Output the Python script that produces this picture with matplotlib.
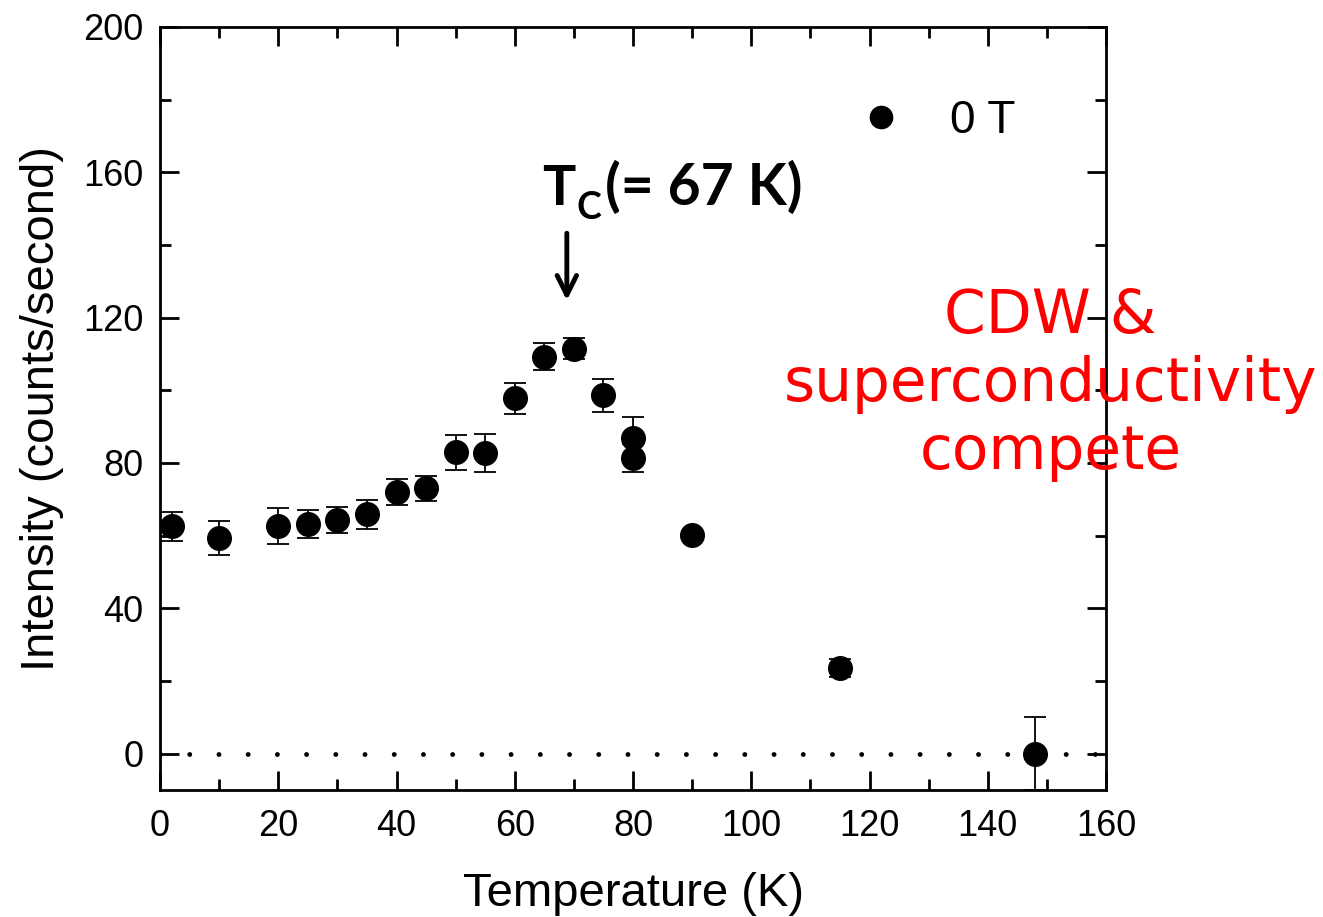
import matplotlib.pyplot as plt
import numpy as np
from matplotlib.ticker import MultipleLocator
from matplotlib.lines import Line2D

# data
temp = [2, 10, 20, 25, 30, 35, 40, 45, 50, 55, 60, 65, 70, 75, 80, 80, 90, 115, 148]
intensity = [62.6, 59.3, 62.6, 63.2, 64.3, 65.9, 72.0, 73.0, 83.0, 82.7,
             97.8, 109.3, 111.5, 98.6, 86.8, 81.3, 60.2, 23.6, 0.0]
err = [4.0, 4.6, 5.0, 3.8, 3.6, 4.0, 3.6, 3.5, 4.8, 5.2,
       4.2, 3.6, 2.8, 4.6, 5.8, 3.8, 1.0, 2.5, 10.0]

plt.rcParams['font.family'] = ['Liberation Sans', 'DejaVu Sans']

fig = plt.figure(figsize=(13.23, 9.17), dpi=100)
ax = fig.add_axes([0.121, 0.1385, 0.715, 0.8321])

ax.axhline(0, color='black', lw=3.5, linestyle=(0, (0.01, 6.0)),
           dash_capstyle='round', zorder=1)

ax.errorbar(temp, intensity, yerr=err, fmt='o', color='black', ms=17,
            ecolor='black', elinewidth=1.3, capsize=8, capthick=1.3,
            zorder=3)

ax.set_xlim(0, 160)
ax.set_ylim(-10, 200)
ax.xaxis.set_major_locator(MultipleLocator(20))
ax.xaxis.set_minor_locator(MultipleLocator(10))
ax.yaxis.set_major_locator(MultipleLocator(40))
ax.yaxis.set_minor_locator(MultipleLocator(20))
ax.tick_params(which='both', direction='in', top=True, right=True,
               width=2, labelsize=26)
ax.tick_params(axis='x', pad=14)
ax.tick_params(axis='y', pad=12)
ax.tick_params(which='major', length=14)
ax.tick_params(which='minor', length=8)
for s in ax.spines.values():
    s.set_linewidth(2)

ax.set_xlabel('Temperature (K)', fontsize=34, labelpad=20)
ax.set_ylabel('Intensity (counts/second)', fontsize=34, labelpad=14)

handle = Line2D([], [], ls='none', marker='o', color='black', ms=16)
ax.legend([handle], ['0 T'], loc='upper right', bbox_to_anchor=(0.948, 0.96),
          frameon=False, fontsize=33, handletextpad=1.0, handlelength=1.0)

# Tc annotation
ax.annotate('', xy=(68.8, 124), xytext=(68.8, 144),
            arrowprops=dict(arrowstyle='->', lw=3.5, color='black',
                            mutation_scale=35))
ax.text(64.6, 151, 'T', fontsize=40, fontweight='bold', family='Lato',
        ha='left', va='baseline')
ax.text(70.5, 147.2, 'C', fontsize=27, fontweight='bold', family='Lato',
        ha='left', va='baseline')
ax.text(75.2, 151, '(= 67 K)', fontsize=41, fontweight='bold', family='Lato',
        ha='left', va='baseline')

fig.text(0.794, 0.581, 'CDW &\nsuperconductivity\ncompete', color='red',
         fontsize=43, ha='center', va='center', linespacing=1.2,
         family='DejaVu Sans')

fig.savefig('out.png', dpi=100)
